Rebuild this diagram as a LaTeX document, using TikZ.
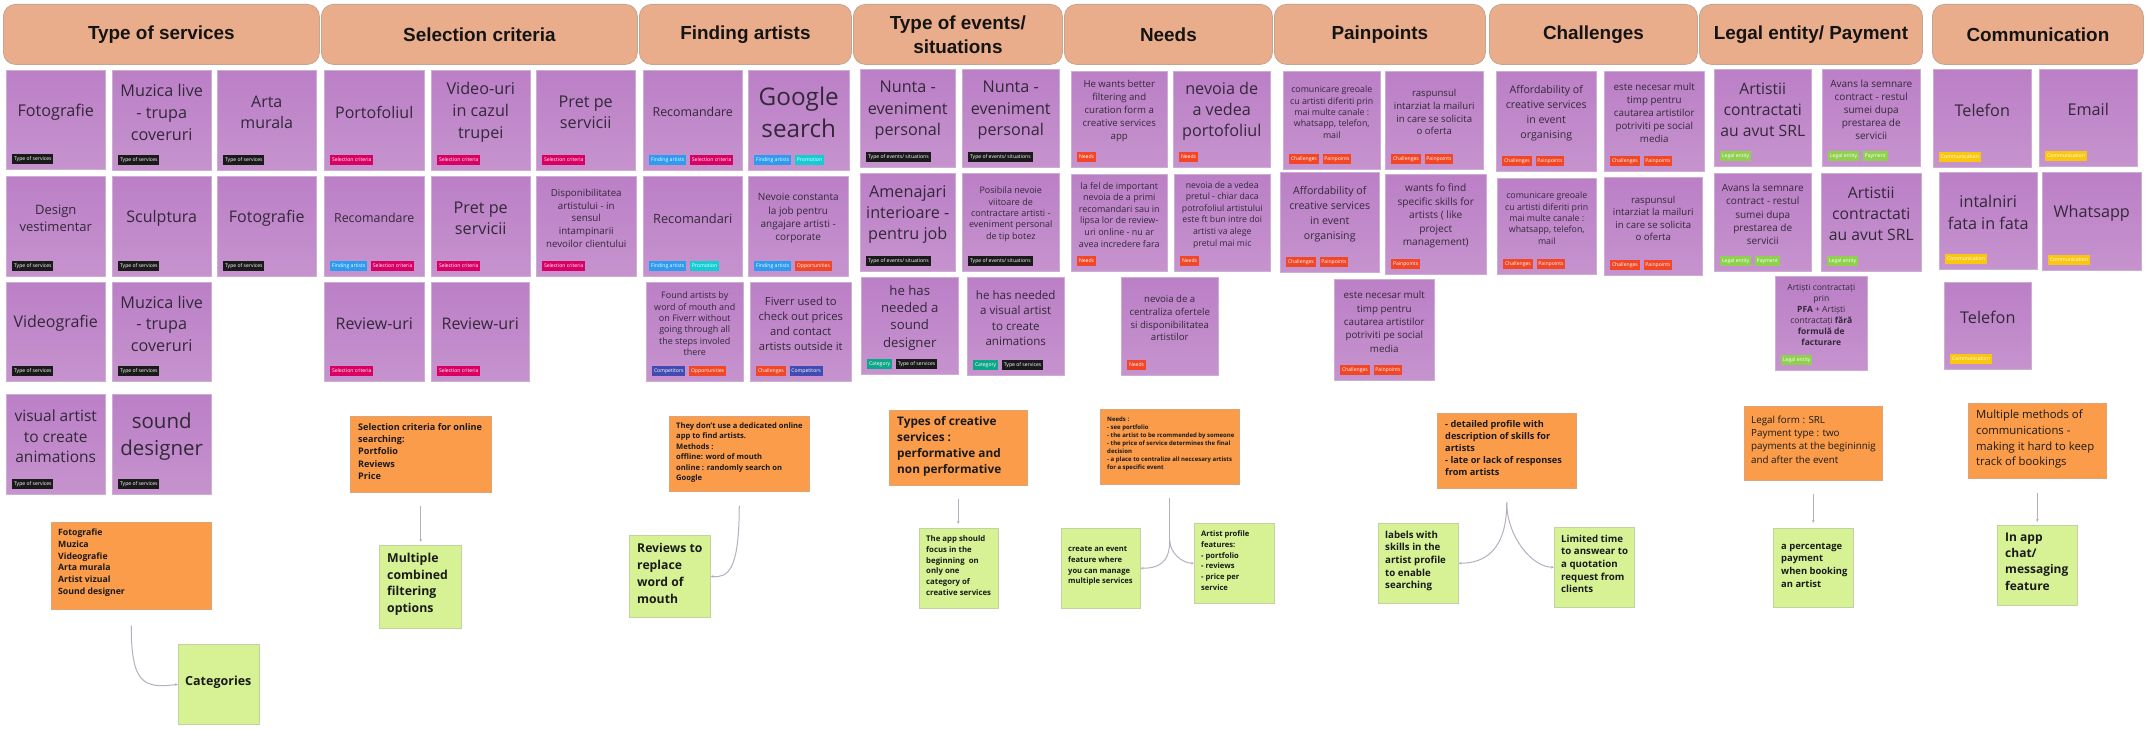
\documentclass[tikz,border=0pt]{standalone}
\usepackage{fontspec}
\setmainfont{Open Sans}
\newfontfamily\hdfont{Liberation Sans}
\usetikzlibrary{calc,arrows.meta}
\definecolor{hdr}{HTML}{EAAD8B}
\definecolor{hdrline}{HTML}{C4A592}
\definecolor{pnA}{HTML}{BB7FC6}
\definecolor{pnB}{HTML}{C693CE}
\definecolor{pline}{HTML}{CDAED3}
\definecolor{onA}{HTML}{FA9C4A}
\definecolor{oline}{HTML}{DDA47A}
\definecolor{gnA}{HTML}{D6F294}
\definecolor{gline}{HTML}{C2D3A2}
\definecolor{ptx}{HTML}{33283A}
\definecolor{btx}{HTML}{1A1A1A}
\definecolor{tsv}{HTML}{1A1A1A}
\definecolor{tsel}{HTML}{DA0063}
\definecolor{tfind}{HTML}{2D9BF0}
\definecolor{tprom}{HTML}{12CDD4}
\definecolor{tred}{HTML}{F24726}
\definecolor{tcomp}{HTML}{414BB2}
\definecolor{tcat}{HTML}{0CA789}
\definecolor{tleg}{HTML}{8FD14F}
\definecolor{tcom}{HTML}{FAC710}
\definecolor{connc}{HTML}{B8AEC2}
\tikzset{
  hdrbox/.style={draw=hdrline, fill=hdr, rounded corners=12pt, line width=0.8pt, inner sep=0pt},
  hdtext/.style={align=center, text=black!92, inner sep=0pt, font=\hdfont\bfseries\fontsize{18.9}{24}\selectfont},
  pnote/.style={draw=pline, line width=0.5pt, top color=pnA, bottom color=pnB, inner sep=0pt},
  ptext/.style={align=center, text=ptx, inner sep=0pt},
  tagst/.style={anchor=south west, text=white, font=\fontsize{5.1}{5.5}\selectfont, inner xsep=1.8pt, inner ysep=0pt, minimum height=10pt, text height=3.9pt, text depth=1.2pt},
  onote/.style={draw=oline, line width=0.5pt, fill=onA, inner sep=0pt},
  gnote/.style={draw=gline, line width=0.5pt, fill=gnA, inner sep=0pt},
  btext/.style={align=left, text=btx, inner sep=0pt, anchor=north west},
  conn/.style={draw=connc, line width=1pt, -{Stealth[length=3pt,width=2.6pt]}},
  connl/.style={draw=connc, line width=1pt},
}
% header: name, x1, y1, x2, y2, text
\newcommand\hdrnote[6]{%
  \node[hdrbox, minimum width={(#4)-(#2)}, minimum height={(#5)-(#3)}, anchor=north west] (#1) at (#2,#3) {};
  \node[hdtext] (#1t) at (#1.center) {#6};}
% purple note: name, x1, y1, x2, y2, size, leading, text, tags
\newcommand\pnt[9]{%
  \node[pnote, minimum width={(#4)-(#2)}, minimum height={(#5)-(#3)}, anchor=north west] (#1) at (#2,#3) {};
  \node[ptext, font=\fontsize{#6}{#7}\selectfont] (#1t) at ($(#1.center)+(0,-8)$) {#8};
  \coordinate (tagpos) at ($(#1.south west)+(6,-5)$);
  \foreach \c/\l in {#9} {\node[tagst, fill=\c] (tg) at (tagpos) {\l};
    \coordinate (tagpos) at ($(tg.south east)+(3.5,0)$);}}
% orange / green note: name, style, x1, y1, x2, y2, font, dx,dy, text
\newcommand\bnt[9]{%
  \node[#2, minimum width={(#5)-(#3)}, minimum height={(#6)-(#4)}, anchor=north west] (#1) at (#3,#4) {};
  \node[btext, font=#7] (#1t) at ($(#1.north west)+(#8)$) {#9};}
\begin{document}
\begin{tikzpicture}[x=1pt,y=-1pt]
\useasboundingbox (0,0) rectangle (2154,730);
\fill[white] (0,0) rectangle (2154,730);
% headers
\hdrnote{h1}{3}{4}{319}{64}{Type of services}
\hdrnote{h2}{321}{4}{637}{64}{Selection criteria}
\hdrnote{h3}{639}{4}{851}{64}{Finding artists}
\hdrnote{h4}{853}{4}{1062}{64}{Type of events/\\situations}
\hdrnote{h5}{1064}{4}{1272}{64}{Needs}
\hdrnote{h6}{1274}{4}{1485}{64}{Painpoints}
\hdrnote{h7}{1489}{4}{1697}{64}{Challenges}
\hdrnote{h8}{1699}{4}{1922}{64}{Legal entity/ Payment}
\hdrnote{h9}{1932}{4}{2143}{64}{Communication}
% Type of services
\pnt{ts1}{6}{70}{105}{169}{16.2}{21}{Fotografie}{tsv/Type of services}
\pnt{ts2}{112}{70}{211}{170}{16.2}{21.7}{Muzica live\\- trupa\\coveruri}{tsv/Type of services}
\pnt{ts3}{217}{70}{316}{170}{16}{21.7}{Arta\\murala}{tsv/Type of services}
\pnt{ts4}{6}{176}{105}{276}{13}{17.7}{Design\\vestimentar}{tsv/Type of services}
\pnt{ts5}{112}{176}{211}{276}{16}{21}{Sculptura}{tsv/Type of services}
\pnt{ts6}{217}{176}{316}{276}{16}{21}{Fotografie}{tsv/Type of services}
\pnt{ts7}{6}{282}{105}{381}{16}{21}{Videografie}{tsv/Type of services}
\pnt{ts8}{112}{282}{211}{381}{16.2}{21.7}{Muzica live\\- trupa\\coveruri}{tsv/Type of services}
\pnt{ts9}{6}{394}{105}{494}{15.5}{20.7}{visual artist\\to create\\animations}{tsv/Type of services}
\pnt{ts10}{112}{394}{211}{494}{20.5}{27}{sound\\designer}{tsv/Type of services}
% Selection criteria
\pnt{sc1}{324}{70}{424}{170}{16}{21}{Portofoliul}{tsel/Selection criteria}
\pnt{sc2}{431}{70}{530}{170}{16.2}{21.7}{Video-uri\\in cazul\\trupei}{tsel/Selection criteria}
\pnt{sc3}{536}{70}{635}{170}{16.2}{21.3}{Pret pe\\servicii}{tsel/Selection criteria}
\pnt{sc4}{324}{176}{424}{276}{12.4}{16}{Recomandare}{tfind/Finding artists,tsel/Selection criteria}
\pnt{sc5}{431}{176}{530}{276}{16.2}{21.7}{Pret pe\\servicii}{tsel/Selection criteria}
\pnt{sc6}{536}{176}{636}{276}{9.7}{12.7}{Disponibilitatea\\artistului - in\\sensul\\intampinarii\\nevoilor clientului}{tsel/Selection criteria}
\pnt{sc7}{324}{282}{424}{381}{16}{21}{Review-uri}{tsel/Selection criteria}
\pnt{sc8}{431}{282}{529}{381}{16}{21}{Review-uri}{tsel/Selection criteria}
% Finding artists
\pnt{fa1}{643}{70}{742}{170}{12.4}{16}{Recomandare}{tfind/Finding artists,tsel/Selection criteria}
\pnt{fa2}{748}{70}{849}{170}{24.3}{32.7}{Google\\search}{tfind/Finding artists,tprom/Promotion}
\pnt{fa3}{643}{176}{742}{276}{12.8}{16}{Recomandari}{tfind/Finding artists,tprom/Promotion}
\pnt{fa4}{748}{176}{848}{276}{10}{13.3}{Nevoie constanta\\la job pentru\\angajare artisti -\\corporate}{tfind/Finding artists,tred/Opportunities}
\pnt{fa5}{646}{282}{743}{381}{9}{11.3}{Found artists by\\word of mouth and\\on Fiverr without\\going through all\\the steps involed\\there}{tcomp/Competitors,tred/Opportunities}
\pnt{fa6}{750}{282}{851}{381}{11.2}{15}{Fiverr used to\\check out prices\\and contact\\artists outside it}{tred/Challenges,tcomp/Competitors}
% Type of events
\pnt{te1}{860}{69}{955}{167}{16.2}{21.7}{Nunta -\\eveniment\\personal}{tsv/{Type of events/ situations}}
\pnt{te2}{962}{69}{1059}{167}{16.2}{21.7}{Nunta -\\eveniment\\personal}{tsv/{Type of events/ situations}}
\pnt{te3}{860}{173}{955}{271}{16.2}{21}{Amenajari\\interioare -\\pentru job}{tsv/{Type of events/ situations}}
\pnt{te4}{962}{173}{1059}{271}{9}{11.3}{Posibila nevoie\\viitoare de\\contractare artisti -\\eveniment personal\\de tip botez}{tsv/{Type of events/ situations}}
\pnt{te5}{861}{277}{958}{374}{13.2}{17.3}{he has\\needed a\\sound\\designer}{tcat/Category,tsv/Type of services}
\pnt{te6}{967}{277}{1064}{375}{11.6}{15.5}{he has needed\\a visual artist\\to create\\animations}{tcat/Category,tsv/Type of services}
% Needs
\pnt{ne1}{1071}{71}{1167}{167}{9.6}{13}{He wants better\\filtering and\\curation form a\\creative services\\app}{tred/Needs}
\pnt{ne2}{1173}{71}{1270}{167}{16.2}{21.3}{nevoia de\\a vedea\\portofoliul}{tred/Needs}
\pnt{ne3}{1071}{174}{1167}{271}{9}{11.6}{la fel de important\\nevoia de a primi\\recomandari sau in\\lipsa lor de review-\\uri online - nu ar\\avea incredere fara}{tred/Needs}
\pnt{ne4}{1174}{174}{1270}{271}{8.7}{11.6}{nevoia de a vedea\\pretul - chiar daca\\potrofoliul artistului\\este ft bun intre doi\\artisti va alege\\pretul mai mic}{tred/Needs}
\pnt{ne5}{1121}{277}{1218}{375}{9.6}{12.7}{nevoia de a\\centraliza ofertele\\si disponibilitatea\\artistilor}{tred/Needs}
% Painpoints
\pnt{pp1}{1283}{71}{1380}{169}{8.8}{11.4}{comunicare greoale\\cu artisti diferiti prin\\mai multe canale :\\whatsapp, telefon,\\mail}{tred/Challenges,tred/Painpoints}
\pnt{pp2}{1385}{71}{1483}{169}{9.6}{12.7}{raspunsul\\intarziat la mailuri\\in care se solicita\\o oferta}{tred/Challenges,tred/Painpoints}
\pnt{pp3}{1280}{172}{1379}{272}{10.6}{15}{Affordability of\\creative services\\in event\\organising}{tred/Challenges,tred/Painpoints}
\pnt{pp4}{1385}{174}{1486}{274}{10.1}{13.5}{wants fo find\\specific skills for\\artists ( like\\project\\management)}{tred/Painpoints}
\pnt{pp5}{1334}{279}{1434}{380}{9.8}{13.3}{este necesar mult\\timp pentru\\cautarea artistilor\\potriviti pe social\\media}{tred/Challenges,tred/Painpoints}
% Challenges
\pnt{ch1}{1496}{71}{1596}{171}{10.6}{15.3}{Affordability of\\creative services\\in event\\organising}{tred/Challenges,tred/Painpoints}
\pnt{ch2}{1604}{71}{1704}{171}{9.8}{13}{este necesar mult\\timp pentru\\cautarea artistilor\\potriviti pe social\\media}{tred/Challenges,tred/Painpoints}
\pnt{ch3}{1497}{178}{1596}{274}{8.8}{11.4}{comunicare greoale\\cu artisti diferiti prin\\mai multe canale :\\whatsapp, telefon,\\mail}{tred/Challenges,tred/Painpoints}
\pnt{ch4}{1604}{177}{1702}{275}{9.6}{12.5}{raspunsul\\intarziat la mailuri\\in care se solicita\\o oferta}{tred/Challenges,tred/Painpoints}
% Legal entity
\pnt{le1}{1714}{69}{1811}{166}{15.7}{21}{Artistii\\contractati\\au avut SRL}{tleg/Legal entity}
\pnt{le2}{1822}{69}{1920}{166}{10}{13.2}{Avans la semnare\\contract - restul\\sumei dupa\\prestarea de\\servicii}{tleg/Legal entity,tleg/Payment}
\pnt{le3}{1714}{173}{1811}{271}{10}{13.2}{Avans la semnare\\contract - restul\\sumei dupa\\prestarea de\\servicii}{tleg/Legal entity,tleg/Payment}
\pnt{le4}{1821}{173}{1921}{271}{15.7}{21}{Artistii\\contractati\\au avut SRL}{tleg/Legal entity}
\pnt{le5}{1775}{276}{1867}{370}{8.5}{11}{Artiști contractați\\prin\\\textbf{PFA} + Artiști\\contractați \textbf{fără}\\\textbf{formulă de}\\\textbf{facturare}}{tleg/Legal entity}
% Communication
\pnt{co1}{1933}{69}{2031}{167}{16.2}{21}{Telefon}{tcom/Communication}
\pnt{co2}{2039}{69}{2137}{166}{16.2}{21}{Email}{tcom/Communication}
\pnt{co3}{1939}{172}{2037}{269}{16.2}{21.7}{intalniri\\fata in fata}{tcom/Communication}
\pnt{co4}{2042}{172}{2141}{270}{16.2}{21}{Whatsapp}{tcom/Communication}
\pnt{co5}{1944}{282}{2031}{369}{16.2}{21}{Telefon}{tcom/Communication}
% orange insight notes
\bnt{o1}{onote}{51}{522}{211}{609}{\bfseries\fontsize{8.7}{11.7}\selectfont}{7,7}{Fotografie\\Muzica\\Videografie\\Arta murala\\Artist vizual\\Sound designer}
\bnt{o2}{onote}{350}{416}{491}{492}{\bfseries\fontsize{9.1}{12.3}\selectfont}{8,7}{Selection criteria for online\\searching:\\Portfolio\\Reviews\\Price}
\bnt{o3}{onote}{669}{416}{809}{491}{\bfseries\fontsize{7.6}{10.4}\selectfont}{7,6.6}{They don't use a dedicated online\\app to find artists.\\Methods :\\offline: word of mouth\\online : randomly search on\\Google}
\bnt{o4}{onote}{889}{410}{1027}{485}{\bfseries\fontsize{11.8}{16}\selectfont}{8,6}{Types of creative\\services :\\performative and\\non performative}
\bnt{o5}{onote}{1100}{409}{1239}{484}{\bfseries\fontsize{6}{8}\selectfont}{7,8}{Needs :\\- see portfolio\\- the artist to be rcommended by someone\\- the price of service determines the final\\decision\\- a place to centralize all neccesary artists\\for a specific event}
\bnt{o6}{onote}{1437}{413}{1576}{488}{\bfseries\fontsize{9.2}{12}\selectfont}{8,7}{- detailed profile with\\description of skills for\\artists\\- late or lack of responses\\from artists}
\bnt{o7}{onote}{1744}{406}{1882}{480}{\color{ptx}\fontsize{9.8}{13.3}\selectfont}{7,9.6}{Legal form : SRL\\Payment type : two\\payments at the begininnig\\and after the event}
\bnt{o8}{onote}{1968}{403}{2106}{478}{\color{ptx}\fontsize{11.3}{15.7}\selectfont}{8,7}{Multiple methods of\\communications -\\making it hard to keep\\track of bookings}
% green idea notes
\bnt{k1}{gnote}{178}{644}{259}{724}{\bfseries\fontsize{12.5}{16}\selectfont}{7,32}{Categories}
\bnt{k2}{gnote}{379}{545}{461}{628}{\bfseries\fontsize{12.3}{16.7}\selectfont}{8,8}{Multiple\\combined\\filtering\\options}
\bnt{k3}{gnote}{629}{535}{710}{617}{\bfseries\fontsize{12.2}{17}\selectfont}{8,8}{Reviews to\\replace\\word of\\mouth}
\bnt{k4}{gnote}{919}{528}{998}{608}{\bfseries\fontsize{7.8}{10.7}\selectfont}{7,7.5}{The app should\\focus in the\\beginning~ on\\only one\\category of\\creative services}
\bnt{k5a}{gnote}{1061}{528}{1140}{608}{\bfseries\fontsize{7.6}{10.7}\selectfont}{7,18.6}{create an event\\feature where\\you can manage\\multiple services}
\bnt{k5b}{gnote}{1194}{523}{1274}{603}{\bfseries\fontsize{7.6}{10.7}\selectfont}{7,7.6}{Artist profile\\features:\\- portfolio\\- reviews\\- price per\\service}
\bnt{k6a}{gnote}{1378}{523}{1458}{603}{\bfseries\fontsize{9.7}{12.7}\selectfont}{7,7.6}{labels with\\skills in the\\artist profile\\to enable\\searching}
\bnt{k6b}{gnote}{1554}{527}{1634}{607}{\bfseries\fontsize{9.7}{12.7}\selectfont}{7,7.6}{Limited time\\to answear to\\a quotation\\request from\\clients}
\bnt{k7}{gnote}{1773}{528}{1853}{607}{\bfseries\fontsize{9.4}{12.7}\selectfont}{8,14.8}{a percentage\\payment\\when booking\\an artist}
\bnt{k8}{gnote}{1997}{525}{2077}{605}{\bfseries\fontsize{12}{16.3}\selectfont}{8,7.6}{In app\\chat/\\messaging\\feature}
% connectors
\draw[conn] ($(o1.south)+(0,16)$) .. controls ($(o1.south)+(0,72)$) and ($(k1.west)+(-36,5)$) .. (k1.west);
\draw[conn] ($(o2.south)+(0,13)$) -- ($(k2.north)+(0.5,-3)$);
\draw[conn] ($(o3.south)+(0,14)$) .. controls ($(o3.south)+(0,78)$) and ($(k3.east)+(18,2)$) .. (k3.east);
\draw[conn] ($(o4.south)+(0,13)$) -- ($(k4.north)+(-0.5,-4)$);
\coordinate (b5s) at ($(o5.south)+(0,13)$);
\coordinate (b5) at ($(o5.south)+(0,56)$);
\draw[connl] (b5s) -- (b5);
\draw[conn] (b5) .. controls ($(b5)+(0,24)$) and ($(k5a.east)+(16,0)$) .. (k5a.east);
\draw[conn] (b5) .. controls ($(b5)+(0,12)$) and ($(k5b.west)+(-12,0)$) .. (k5b.west);
\coordinate (b6) at ($(o6.south)+(0,14)$);
\draw[conn] (b6) .. controls ($(b6)+(0,48)$) and ($(k6a.east)+(26,0)$) .. (k6a.east);
\draw[conn] (b6) .. controls ($(b6)+(0,34)$) and ($(k6b.west)+(-22,0)$) .. (k6b.west);
\draw[conn] ($(o7.south)+(0,13)$) -- ($(k7.north)+(0,-5)$);
\draw[conn] ($(o8.south)+(0,14)$) -- ($(k8.north)+(0,-3)$);
\end{tikzpicture}
\end{document}
